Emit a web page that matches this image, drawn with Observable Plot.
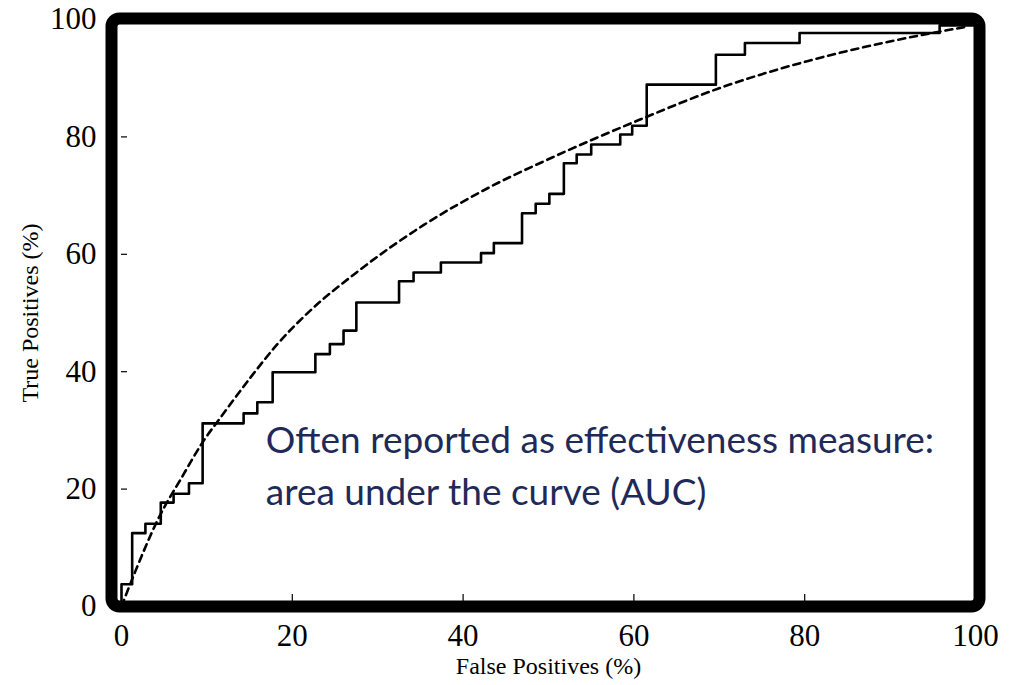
<!DOCTYPE html>
<html>
<head>
<meta charset="utf-8">
<script src="https://cdn.jsdelivr.net/npm/d3@7"></script>
<script src="https://cdn.jsdelivr.net/npm/@observablehq/plot@0.6"></script>
<style>
  html, body { margin: 0; padding: 0; background: #ffffff; }
</style>
</head>
<body>
<div id="chart"></div>
<script>
// Tick values
const xTicks = [0, 20, 40, 60, 80, 100];
const yTicks = [0, 20, 40, 60, 80, 100];
const innerTicks = [20, 40, 60, 80];

// Empirical ROC step curve (False Positives %, True Positives %)
const stepFP = [0, 0, 1.25, 2.8, 4.6, 6.1, 7.9, 9.5, 14.3, 15.9, 17.7, 22.7, 24.4, 26.0, 27.5, 32.5, 34.2, 37.4, 42.1, 43.6, 46.9, 48.5, 50.1, 51.8, 53.3, 55.0, 58.4, 59.8, 61.5, 69.6, 73.0, 79.4, 95.8, 100];
const stepTP = [0, 3.8, 12.5, 14.1, 17.7, 19.2, 21.0, 31.2, 32.9, 34.8, 39.9, 43.0, 44.7, 47.0, 51.8, 55.4, 56.9, 58.6, 60.2, 61.9, 67.0, 68.6, 70.3, 75.5, 77.0, 78.7, 80.4, 81.9, 88.9, 94.0, 96.0, 97.7, 99.0, 99.0];

// Smooth (fitted) ROC curve, dashed
const smoothFP = [0, 1.64, 4.57, 6.9, 9.6, 11.6, 15.1, 18.2, 22.1, 27.6, 35.4, 43.2, 50.3, 60.8, 70.2, 80.3, 90.1, 98.7];
const smoothTP = [0, 6.07, 15.7, 21.6, 28.2, 32.2, 39.0, 44.6, 50.4, 57.0, 65.0, 71.5, 76.4, 83.0, 88.4, 92.9, 96.3, 98.7];

// Texts
const xLabel = "False Positives (%)";
const yLabel = "True Positives (%)";
const annotation = ["Often reported as effectiveness measure:\narea under the curve (AUC)"];
const annotationPos = {fp: 16.9, tp: 24.5};

const stepData = stepFP.map((x, i) => ({x, y: stepTP[i]}));
const smoothData = smoothFP.map((x, i) => ({x, y: smoothTP[i]}));

const chart = Plot.plot({
  width: 1020,
  height: 685,
  marginLeft: 121,
  marginRight: 45,
  marginTop: 19,
  marginBottom: 79,
  x: {domain: [0, 100]},
  y: {domain: [0, 100]},
  style: {fontFamily: "'Liberation Serif', 'DejaVu Serif', serif", fontSize: "31px", color: "#000", background: "#fff"},
  marks: [
    Plot.axisY(yTicks, {tickSize: 0, tickPadding: 25, label: null, fontSize: 31}),
    Plot.axisX(xTicks, {tickSize: 0, tickPadding: 17, label: null, fontSize: 31}),
    Plot.gridY(innerTicks, {stroke: "#000", strokeOpacity: 1, strokeWidth: 1.2, insetRight: 848}),
    Plot.gridX(innerTicks, {stroke: "#000", strokeOpacity: 1, strokeWidth: 1.2, insetTop: 575}),
    Plot.line(smoothData, {x: "x", y: "y", curve: "monotone-x", stroke: "#000", strokeWidth: 2.6, strokeDasharray: "7,5"}),
    Plot.line(stepData, {x: "x", y: "y", curve: "step-after", stroke: "#000", strokeWidth: 2.6}),
    Plot.text(annotation, {
      x: () => annotationPos.fp, y: () => annotationPos.tp, text: d => d,
      textAnchor: "start", lineAnchor: "middle", lineHeight: 1.4,
      fontFamily: "Lato, 'Open Sans', sans-serif", fontSize: 37, fill: "#1f2a58"
    }),
    Plot.text([xLabel], {frameAnchor: "bottom", text: d => d, textAnchor: "middle", dy: 67, fontSize: 24, fill: "#000"}),
    Plot.text([yLabel], {frameAnchor: "left", text: d => d, textAnchor: "middle", dx: -91, rotate: -90, fontSize: 24, fill: "#000"}),
    Plot.frame({stroke: "#000", strokeWidth: 12, rx: 8, insetLeft: -10, insetRight: -4, insetTop: -1, insetBottom: 0})
  ]
});
document.getElementById("chart").appendChild(chart);
</script>
</body>
</html>
